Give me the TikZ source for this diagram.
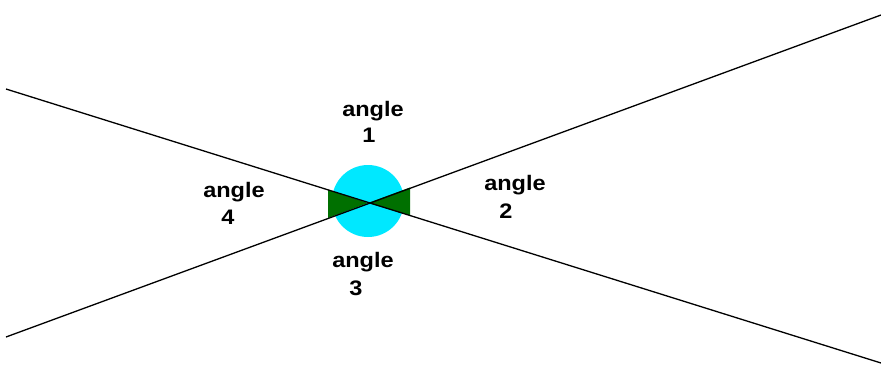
\documentclass[tikz,border=0pt]{standalone}
\usepackage{fontspec}
\setmainfont{Liberation Sans}
\newcommand\lblfont{\fontsize{21}{24}\selectfont\bfseries}
\newcommand\wtext[1]{\scalebox{1.12}[1]{#1}}
\definecolor{cyanfill}{RGB}{0,232,255}
\definecolor{greenfill}{RGB}{0,112,0}
\tikzset{
  lbl/.style={font=\lblfont, anchor=base, inner sep=0pt},
  ray/.style={line width=1.3pt, black},
}
\begin{document}
\begin{tikzpicture}[x=1pt,y=-1pt]
\useasboundingbox (0,0) rectangle (881,368);
\fill[white] (0,0) rectangle (881,368);
% lines end points
\coordinate (a1) at (6,89);
\coordinate (a2) at (881,363);
\coordinate (b1) at (6,337);
\coordinate (b2) at (881,15);
\coordinate (o) at (368,203);
% circle
\node[circle, fill=cyanfill, minimum size=72pt, inner sep=0pt] (circ) at (368,201) {};
% bowtie
\fill[greenfill] (328,190) -- (o) -- (328,218) -- cycle;
\fill[greenfill] (410,187.5) -- (o) -- (410,215.5) -- cycle;
% lines
\draw[ray] (a1) -- (a2);
\draw[ray] (b1) -- (b2);
% labels
\node[lbl] (l1a) at (373,116) {\wtext{angle}};
\node[lbl] (l1b) at (369,142) {\wtext{1}};
\node[lbl] (l2a) at (515,190) {\wtext{angle}};
\node[lbl] (l2b) at (506,218) {\wtext{2}};
\node[lbl] (l3a) at (363,267) {\wtext{angle}};
\node[lbl] (l3b) at (356,295) {\wtext{3}};
\node[lbl] (l4a) at (234,197) {\wtext{angle}};
\node[lbl] (l4b) at (228,224) {\wtext{4}};
\end{tikzpicture}
\end{document}
